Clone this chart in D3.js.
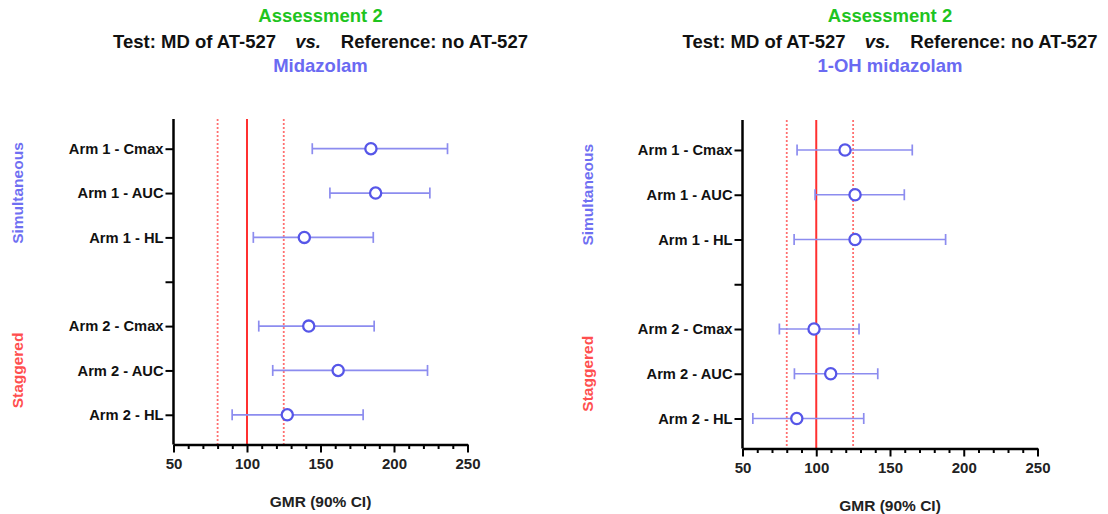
<!DOCTYPE html>
<html>
<head>
<meta charset="utf-8">
<script src="https://cdn.jsdelivr.net/npm/d3@7"></script>
<style>
  body { margin: 0; background: #fff; }
  svg { display: block; }
  text { font-family: "Liberation Sans", Arial, sans-serif; font-weight: bold; }
</style>
</head>
<body>
<svg width="1108" height="514"></svg>
<script>
// rows of the forest plot (blank row = separator tick)
const categories = ["Arm 1 - Cmax", "Arm 1 - AUC", "Arm 1 - HL", "", "Arm 2 - Cmax", "Arm 2 - AUC", "Arm 2 - HL"];
const groupNames = ["Simultaneous", "Staggered"];
const groupRows = [["Arm 1 - Cmax", "Arm 1 - HL"], ["Arm 2 - Cmax", "Arm 2 - HL"]];
const xTicks = [50, 100, 150, 200, 250];
const refLines = [80, 100, 125];

// Midazolam GMR and 90% CI
const midGmr  = [184.3, 187.5, 139.0, null, 142.0, 162.0, 127.4];
const midLow  = [144.4, 156.4, 104.3, null, 108.0, 117.5,  89.9];
const midHigh = [236.4, 224.4, 185.9, null, 186.5, 222.8, 179.0];

// 1-OH midazolam GMR and 90% CI
const ohGmr  = [119.5, 126.3, 126.3, null,  98.5, 109.8,  86.8];
const ohLow  = [ 87.0,  99.2,  85.0, null,  75.0,  85.2,  57.0];
const ohHigh = [165.1, 159.7, 187.7, null, 129.0, 141.7, 132.2];

const titleLines = ["Assessment 2", "Test: MD of AT-527", "vs.", "Reference: no AT-527"];
const panelNames = ["Midazolam", "1-OH midazolam"];
const xLabel = "GMR (90% CI)";

const svg = d3.select("svg");

const panels = [
    {name: panelNames[0], gmr: midGmr, low: midLow, high: midHigh,
     left: 173.5, right: 467.5, top: 119, bottom: 444.5, groupX: 18},
    {name: panelNames[1], gmr: ohGmr, low: ohLow, high: ohHigh,
     left: 742.5, right: 1037.5, top: 120, bottom: 448.5, groupX: 588}
];

const groupColors = ["#6f6ff2", "#ff4f4f"];

panels.forEach(p => {
    const g = svg.append("g");
    const cx = (p.left + p.right) / 2;

    const x = d3.scaleLinear().domain([50, 250]).range([p.left, p.right]);
    const y = d3.scalePoint().domain(categories).range([p.top, p.bottom]).padding(0.67);

    // titles
    g.append("text").attr("x", cx).attr("y", 22).attr("text-anchor", "middle")
        .style("font-size", "18.5px").attr("fill", "#1fc41f").text(titleLines[0]);
    const t = g.append("text").attr("x", cx).attr("y", 48).attr("text-anchor", "middle")
        .style("font-size", "18.5px").attr("fill", "#111");
    t.append("tspan").text(titleLines[1]);
    t.append("tspan").attr("dx", 19).style("font-style", "italic").text(titleLines[2]);
    t.append("tspan").attr("dx", 20).text(titleLines[3]);
    g.append("text").attr("x", cx).attr("y", 72).attr("text-anchor", "middle")
        .style("font-size", "18.5px").attr("fill", "#6a6af2").text(p.name);

    // reference lines
    g.selectAll(".ref").data(refLines).enter().append("line")
        .attr("x1", d => x(d)).attr("x2", d => x(d))
        .attr("y1", p.top).attr("y2", p.bottom)
        .attr("stroke", d => d === 100 ? "#ff3030" : "#ff7070")
        .attr("stroke-width", d => d === 100 ? 2 : 1.8)
        .attr("stroke-dasharray", d => d === 100 ? null : "2,2");

    // error bars
    const rows = categories.map((c, i) => ({c: c, gmr: p.gmr[i], low: p.low[i], high: p.high[i]}))
        .filter(d => d.gmr !== null);
    const bars = g.selectAll(".bar").data(rows).enter().append("g")
        .attr("stroke", "#8c8cef").attr("stroke-width", 1.7);
    bars.append("line")
        .attr("x1", d => x(d.low)).attr("x2", d => x(d.high))
        .attr("y1", d => y(d.c)).attr("y2", d => y(d.c));
    bars.append("line")
        .attr("x1", d => x(d.low)).attr("x2", d => x(d.low))
        .attr("y1", d => y(d.c) - 5.5).attr("y2", d => y(d.c) + 5.5);
    bars.append("line")
        .attr("x1", d => x(d.high)).attr("x2", d => x(d.high))
        .attr("y1", d => y(d.c) - 5.5).attr("y2", d => y(d.c) + 5.5);

    g.selectAll(".pt").data(rows).enter().append("circle")
        .attr("cx", d => x(d.gmr)).attr("cy", d => y(d.c)).attr("r", 5.6)
        .attr("fill", "#fff").attr("stroke", "#5656e8").attr("stroke-width", 2.3);

    // y axis
    const yAxis = g.append("g").attr("transform", "translate(" + p.left + ",0)")
        .call(d3.axisLeft(y).tickSize(8).tickPadding(2));
    yAxis.select(".domain").attr("d", "M0," + p.top + "V" + p.bottom).attr("stroke-width", 2.5);
    yAxis.selectAll(".tick line").attr("stroke-width", 2);
    yAxis.selectAll(".tick text").style("font-size", "14.7px").attr("fill", "#111");

    // x axis with minor ticks
    const xMinor = g.append("g").attr("transform", "translate(0," + p.bottom + ")")
        .call(d3.axisBottom(x).tickValues(d3.range(60, 250, 10).filter(v => v % 50 !== 0))
            .tickSize(4.5).tickFormat(""));
    xMinor.select(".domain").remove();
    xMinor.selectAll(".tick line").attr("stroke-width", 2);

    const xAxis = g.append("g").attr("transform", "translate(0," + p.bottom + ")")
        .call(d3.axisBottom(x).tickValues(xTicks).tickSize(8).tickPadding(6).tickSizeOuter(0));
    xAxis.select(".domain").attr("stroke-width", 2.5);
    xAxis.selectAll(".tick line").attr("stroke-width", 2);
    xAxis.selectAll(".tick text").style("font-size", "15px").attr("fill", "#222");

    g.append("text").attr("x", cx).attr("y", p.bottom + 62).attr("text-anchor", "middle")
        .style("font-size", "15.5px").attr("fill", "#222").text(xLabel);

    // group labels
    groupNames.forEach((name, i) => {
        const gy = (y(groupRows[i][0]) + y(groupRows[i][1])) / 2;
        g.append("text")
            .attr("transform", "translate(" + (p.groupX + 5) + "," + gy + ") rotate(-90)")
            .attr("text-anchor", "middle")
            .style("font-size", "15.5px").attr("fill", groupColors[i]).text(name);
    });
});
</script>
</body>
</html>
